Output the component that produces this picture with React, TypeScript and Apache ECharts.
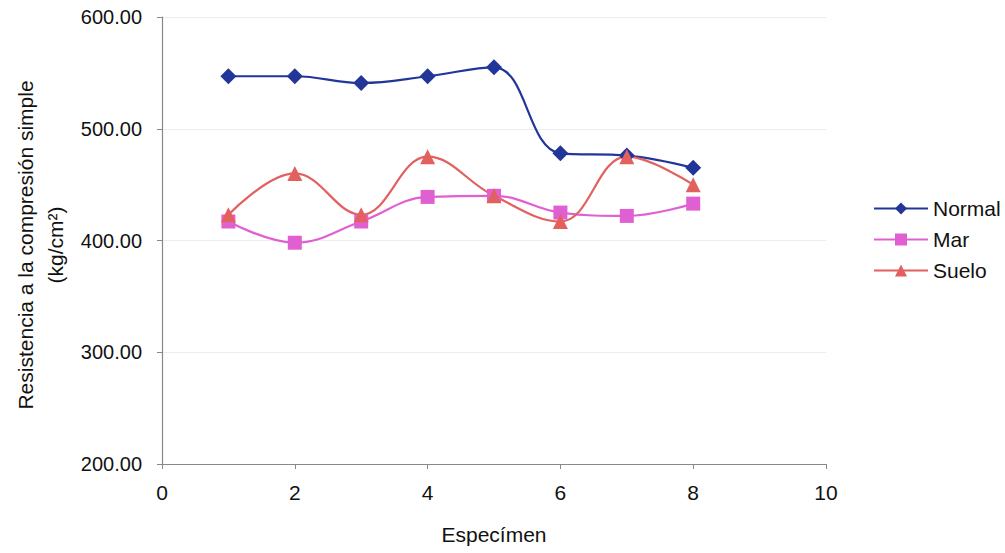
import React, { useEffect, useRef } from "react";
import * as echarts from "echarts";

// Specimen numbers and measured compressive strength per group (kg/cm²)
const specimens = [1, 2, 3, 4, 5, 6, 7, 8];
const normalValues = [547, 547, 541, 547, 555, 478, 476, 465];
const marValues = [417, 398, 417, 439, 440, 425, 422, 433];
const sueloValues = [423, 460, 423, 475, 440, 417, 475, 450];

const FONT = "'Liberation Sans', Arial, sans-serif";

const pair = (vals: number[]) => specimens.map((x, i) => [x, vals[i]]);

export default function App() {
  const ref = useRef<HTMLDivElement>(null);

  useEffect(() => {
    if (!ref.current) return;
    const chart = echarts.init(ref.current, undefined, { renderer: "svg" });

    const lineSeries = (
      name: string,
      vals: number[],
      color: string,
      symbol: string,
      size: number
    ) => ({
      name,
      type: "line",
      data: pair(vals),
      smooth: 0.4,
      symbol,
      symbolSize: size,
      lineStyle: { color, width: 2.2 },
      itemStyle: { color },
    });

    chart.setOption({
      animation: false,
      backgroundColor: "#ffffff",
      textStyle: { fontFamily: FONT },
      grid: { left: 162, right: 179, top: 17, bottom: 89 },
      xAxis: {
        type: "value",
        min: 0,
        max: 10,
        interval: 2,
        name: "Especímen",
        nameLocation: "middle",
        nameGap: 60,
        nameTextStyle: { fontSize: 21, color: "#111", fontFamily: FONT },
        axisLine: { show: true, lineStyle: { color: "#888", width: 1.2 } },
        axisTick: { show: true, length: 5, lineStyle: { color: "#888" } },
        axisLabel: { fontSize: 21, color: "#111", margin: 18, fontFamily: FONT },
        splitLine: { show: false },
      },
      yAxis: {
        type: "value",
        min: 200,
        max: 600,
        interval: 100,
        axisLine: { show: true, lineStyle: { color: "#888", width: 1.2 } },
        axisTick: { show: true, length: 5, lineStyle: { color: "#888" } },
        axisLabel: {
          fontSize: 20,
          color: "#111",
          margin: 20,
          fontFamily: FONT,
          formatter: (v: number) => v.toFixed(2),
        },
        splitLine: { show: true, lineStyle: { color: "#ececec", width: 1 } },
      },
      legend: {
        orient: "vertical",
        left: 868,
        top: 193,
        itemWidth: 54,
        itemHeight: 15,
        itemGap: 10,
        textStyle: { fontSize: 21, color: "#111", fontFamily: FONT },
        data: ["Normal", "Mar", "Suelo"],
      },
      graphic: [
        {
          type: "text",
          x: 10,
          y: 245,
          rotation: Math.PI / 2,
          style: {
            text: "Resistencia a la compresión simple\n(kg/cm²)",
            fontSize: 21,
            fontFamily: FONT,
            fill: "#111",
            align: "center",
            verticalAlign: "top",
            lineHeight: 30,
          },
        },
      ],
      series: [
        lineSeries("Normal", normalValues, "#22369a", "diamond", 16),
        lineSeries("Mar", marValues, "#e060d2", "rect", 14),
        lineSeries("Suelo", sueloValues, "#e2605e", "triangle", 15),
      ],
    });

    return () => chart.dispose();
  }, []);

  return (
    <div
      ref={ref}
      style={{ position: "fixed", left: 0, top: 0, width: 1005, height: 553 }}
    />
  );
}
